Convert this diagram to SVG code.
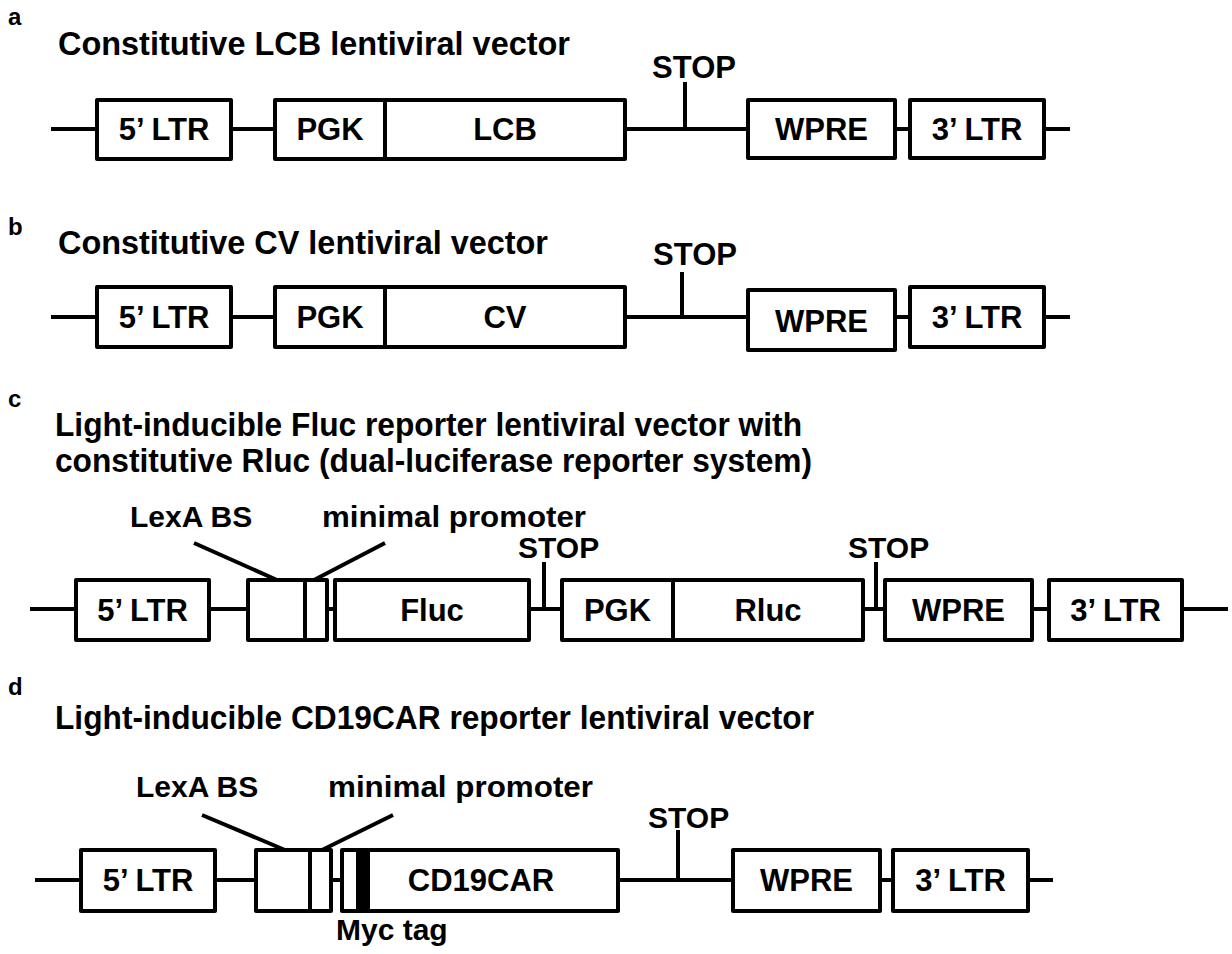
<svg xmlns="http://www.w3.org/2000/svg" width="1232" height="954" viewBox="0 0 1232 954">
<style>
text{font-family:"Liberation Sans",Arial,sans-serif;font-weight:bold;fill:#000}
.lbl{font-size:24px}
.ttl{font-size:33px}
.box{fill:#fff;stroke:#000;stroke-width:4;stroke-linejoin:round}
.bl{font-size:31px;text-anchor:middle}
.sm{font-size:30px}
.ln{stroke:#000;stroke-width:4;fill:none}
</style>
<rect width="1232" height="954" fill="#fff"/>

<!-- Panel labels and titles -->
<g id="titles">
<text class="lbl" x="8" y="25">a</text>
<text class="ttl" x="58" y="55" textLength="512" lengthAdjust="spacingAndGlyphs">Constitutive LCB lentiviral vector</text>
<text class="lbl" x="8" y="235">b</text>
<text class="ttl" x="58" y="254" textLength="490" lengthAdjust="spacingAndGlyphs">Constitutive CV lentiviral vector</text>
<text class="lbl" x="8" y="407">c</text>
<text class="ttl" x="55" y="436" textLength="747" lengthAdjust="spacingAndGlyphs">Light-inducible Fluc reporter lentiviral vector with</text>
<text class="ttl" x="55" y="472" textLength="757" lengthAdjust="spacingAndGlyphs">constitutive Rluc (dual-luciferase reporter system)</text>
<text class="lbl" x="8" y="695">d</text>
<text class="ttl" x="55" y="729" textLength="759" lengthAdjust="spacingAndGlyphs">Light-inducible CD19CAR reporter lentiviral vector</text>
</g>

<!-- Connectors: backbones, STOP ticks, leader lines -->
<g id="connectors" class="ln">
<line x1="51" y1="129" x2="1070" y2="129"/>
<line x1="685" y1="82" x2="685" y2="129"/>
<line x1="51" y1="317" x2="1070" y2="317"/>
<line x1="682" y1="272" x2="682" y2="317"/>
<line x1="30" y1="609" x2="1228" y2="609"/>
<line x1="544" y1="562" x2="544" y2="609"/>
<line x1="876" y1="562" x2="876" y2="609"/>
<line x1="194" y1="543" x2="277" y2="580"/>
<line x1="385" y1="543" x2="314" y2="580"/>
<line x1="35" y1="880" x2="1053" y2="880"/>
<line x1="678" y1="830" x2="678" y2="880"/>
<line x1="202" y1="815" x2="285" y2="850"/>
<line x1="393" y1="815" x2="322" y2="850"/>
</g>

<!-- Panel a -->
<g id="a-5ltr"><rect class="box" x="97" y="100" width="134" height="59"/><text class="bl" x="164" y="140">5’ LTR</text></g>
<g id="a-pgk"><rect class="box" x="275" y="100" width="110" height="59"/><text class="bl" x="330" y="140">PGK</text></g>
<g id="a-lcb"><rect class="box" x="385" y="100" width="240" height="59"/><text class="bl" x="505" y="140">LCB</text></g>
<g id="a-stop"><text class="bl" x="694" y="78">STOP</text></g>
<g id="a-wpre"><rect class="box" x="748" y="100" width="147" height="58"/><text class="bl" x="821.5" y="140">WPRE</text></g>
<g id="a-3ltr"><rect class="box" x="910" y="100" width="134" height="58"/><text class="bl" x="977" y="140">3’ LTR</text></g>

<!-- Panel b -->
<g id="b-5ltr"><rect class="box" x="97" y="287" width="134" height="60"/><text class="bl" x="164" y="328">5’ LTR</text></g>
<g id="b-pgk"><rect class="box" x="275" y="287" width="110" height="60"/><text class="bl" x="330" y="328">PGK</text></g>
<g id="b-cv"><rect class="box" x="385" y="287" width="240" height="60"/><text class="bl" x="505" y="328">CV</text></g>
<g id="b-stop"><text class="bl" x="695" y="265">STOP</text></g>
<g id="b-wpre"><rect class="box" x="748" y="290" width="147" height="60"/><text class="bl" x="821.5" y="332">WPRE</text></g>
<g id="b-3ltr"><rect class="box" x="910" y="287" width="134" height="60"/><text class="bl" x="977" y="328">3’ LTR</text></g>

<!-- Panel c -->
<g id="c-5ltr"><rect class="box" x="76" y="580" width="133" height="60"/><text class="bl" x="142.5" y="621">5’ LTR</text></g>
<g id="c-lexa"><rect class="box" x="248" y="580" width="57" height="60"/><text class="sm" x="130" y="527">LexA BS</text></g>
<g id="c-minp"><rect class="box" x="305" y="580" width="22" height="60"/><text class="sm" x="322" y="527" textLength="264" lengthAdjust="spacingAndGlyphs">minimal promoter</text></g>
<g id="c-fluc"><rect class="box" x="335" y="580" width="194" height="60"/><text class="bl" x="432" y="621">Fluc</text></g>
<g id="c-stop1"><text class="sm" x="518" y="558">STOP</text></g>
<g id="c-pgk"><rect class="box" x="562" y="580" width="111" height="60"/><text class="bl" x="617.5" y="621">PGK</text></g>
<g id="c-rluc"><rect class="box" x="673" y="580" width="190" height="60"/><text class="bl" x="768" y="621">Rluc</text></g>
<g id="c-stop2"><text class="sm" x="848" y="558">STOP</text></g>
<g id="c-wpre"><rect class="box" x="885" y="580" width="147" height="60"/><text class="bl" x="958.5" y="621">WPRE</text></g>
<g id="c-3ltr"><rect class="box" x="1049" y="580" width="133" height="60"/><text class="bl" x="1115.5" y="621">3’ LTR</text></g>

<!-- Panel d -->
<g id="d-5ltr"><rect class="box" x="81" y="850" width="134" height="61"/><text class="bl" x="148" y="891">5’ LTR</text></g>
<g id="d-lexa"><rect class="box" x="256" y="850" width="54" height="61"/><text class="sm" x="136" y="797">LexA BS</text></g>
<g id="d-minp"><rect class="box" x="310" y="850" width="21" height="61"/><text class="sm" x="328" y="797" textLength="265" lengthAdjust="spacingAndGlyphs">minimal promoter</text></g>
<g id="d-cd19car"><rect class="box" x="342" y="850" width="276" height="61"/><rect x="356" y="850" width="14" height="61" fill="#000"/><text class="bl" x="481" y="891">CD19CAR</text></g>
<g id="d-myc"><text class="sm" x="336" y="940">Myc tag</text></g>
<g id="d-stop"><text class="sm" x="648" y="828">STOP</text></g>
<g id="d-wpre"><rect class="box" x="733" y="850" width="147" height="61"/><text class="bl" x="806.5" y="891">WPRE</text></g>
<g id="d-3ltr"><rect class="box" x="893" y="850" width="135" height="61"/><text class="bl" x="960.5" y="891">3’ LTR</text></g>
</svg>
